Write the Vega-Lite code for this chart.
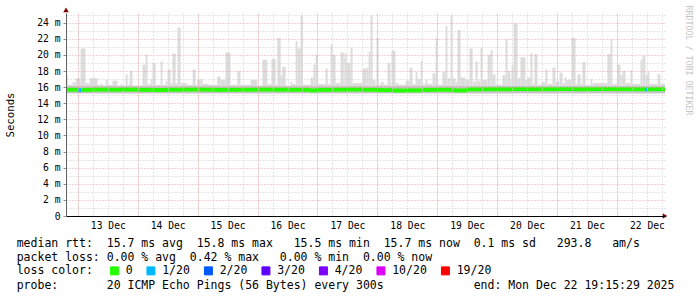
{
  "width": 599,
  "height": 203,
  "autosize": {"type": "none"},
  "padding": {"left": 66, "top": 13, "right": 32, "bottom": 81},
  "background": "white",
  "config": {"view": {"stroke": null}},
  "title": {
    "text": ["median rtt:\u00a0\u00a015.7 ms avg\u00a0\u00a015.8 ms max\u00a0\u00a0\u00a015.5 ms min\u00a0\u00a015.7 ms now\u00a0\u00a00.1 ms sd\u00a0\u00a0\u00a0293.8\u00a0\u00a0\u00a0am/s",
             "packet loss:\u00a00.00 % avg\u00a0\u00a00.42 % max\u00a0\u00a0\u00a00.00 % min\u00a0\u00a00.00 % now"],
    "subtitle": ["\u00a0", "probe:\u00a0\u00a0\u00a0\u00a0\u00a0\u00a0\u00a020 ICMP Echo Pings (56 Bytes) every 300s\u00a0\u00a0\u00a0\u00a0\u00a0\u00a0\u00a0\u00a0\u00a0\u00a0\u00a0\u00a0\u00a0end: Mon Dec 22 19:15:29 2025"],
    "orient": "bottom",
    "anchor": "start",
    "frame": "group",
    "dx": -49.3,
    "offset": -39,
    "font": "DejaVu Sans Mono",
    "fontSize": 11.5,
    "fontWeight": "normal",
    "color": "#000000",
    "lineHeight": 14,
    "subtitleFont": "DejaVu Sans Mono",
    "subtitleFontSize": 11.5,
    "subtitleFontWeight": "normal",
    "subtitleColor": "#000000",
    "subtitleLineHeight": 14,
    "subtitlePadding": 2
  },
  "datasets": {
    "smoke": [
      {"t0":"2025-12-12T19:15","t1":"2025-12-12T19:55","v":17.5},
      {"t0":"2025-12-12T19:55","t1":"2025-12-12T21:50","v":16.3},
      {"t0":"2025-12-12T21:50","t1":"2025-12-12T23:05","v":16.6},
      {"t0":"2025-12-12T23:05","t1":"2025-12-13T01:05","v":17.1},
      {"t0":"2025-12-13T01:05","t1":"2025-12-13T03:05","v":20.8},
      {"t0":"2025-12-13T03:05","t1":"2025-12-13T04:45","v":16.5},
      {"t0":"2025-12-13T04:45","t1":"2025-12-13T07:55","v":17.1},
      {"t0":"2025-12-13T07:55","t1":"2025-12-13T09:10","v":16.3},
      {"t0":"2025-12-13T09:10","t1":"2025-12-13T10:05","v":16.4},
      {"t0":"2025-12-13T10:05","t1":"2025-12-13T11:10","v":16.2},
      {"t0":"2025-12-13T11:10","t1":"2025-12-13T11:55","v":16.9},
      {"t0":"2025-12-13T11:55","t1":"2025-12-13T13:50","v":16.3},
      {"t0":"2025-12-13T13:50","t1":"2025-12-13T15:55","v":16.8},
      {"t0":"2025-12-13T15:55","t1":"2025-12-13T17:10","v":16.2},
      {"t0":"2025-12-13T17:10","t1":"2025-12-13T17:55","v":16.4},
      {"t0":"2025-12-13T17:55","t1":"2025-12-13T19:10","v":16.2},
      {"t0":"2025-12-13T19:10","t1":"2025-12-13T19:55","v":17.6},
      {"t0":"2025-12-13T19:55","t1":"2025-12-13T20:45","v":16.3},
      {"t0":"2025-12-13T20:45","t1":"2025-12-13T21:55","v":18.0},
      {"t0":"2025-12-13T21:55","t1":"2025-12-14T01:55","v":16.2},
      {"t0":"2025-12-14T01:55","t1":"2025-12-14T03:10","v":18.8},
      {"t0":"2025-12-14T03:10","t1":"2025-12-14T03:55","v":20.0},
      {"t0":"2025-12-14T03:55","t1":"2025-12-14T05:10","v":16.4},
      {"t0":"2025-12-14T05:10","t1":"2025-12-14T05:55","v":17.0},
      {"t0":"2025-12-14T05:55","t1":"2025-12-14T07:10","v":19.0},
      {"t0":"2025-12-14T07:10","t1":"2025-12-14T09:10","v":16.3},
      {"t0":"2025-12-14T09:10","t1":"2025-12-14T09:55","v":19.2},
      {"t0":"2025-12-14T09:55","t1":"2025-12-14T11:10","v":16.3},
      {"t0":"2025-12-14T11:10","t1":"2025-12-14T11:55","v":16.7},
      {"t0":"2025-12-14T11:55","t1":"2025-12-14T13:10","v":18.2},
      {"t0":"2025-12-14T13:10","t1":"2025-12-14T13:55","v":16.5},
      {"t0":"2025-12-14T13:55","t1":"2025-12-14T15:10","v":20.2},
      {"t0":"2025-12-14T15:10","t1":"2025-12-14T15:55","v":16.5},
      {"t0":"2025-12-14T15:55","t1":"2025-12-14T17:10","v":23.4},
      {"t0":"2025-12-14T17:10","t1":"2025-12-14T19:50","v":16.5},
      {"t0":"2025-12-14T19:50","t1":"2025-12-14T22:00","v":16.3},
      {"t0":"2025-12-14T22:00","t1":"2025-12-14T23:10","v":18.2},
      {"t0":"2025-12-14T23:10","t1":"2025-12-14T23:50","v":16.3},
      {"t0":"2025-12-14T23:50","t1":"2025-12-15T01:10","v":16.9},
      {"t0":"2025-12-15T01:10","t1":"2025-12-15T02:00","v":17.0},
      {"t0":"2025-12-15T02:00","t1":"2025-12-15T04:25","v":16.4},
      {"t0":"2025-12-15T04:25","t1":"2025-12-15T07:50","v":16.3},
      {"t0":"2025-12-15T07:50","t1":"2025-12-15T09:10","v":17.3},
      {"t0":"2025-12-15T09:10","t1":"2025-12-15T11:10","v":16.9},
      {"t0":"2025-12-15T11:10","t1":"2025-12-15T13:10","v":20.3},
      {"t0":"2025-12-15T13:10","t1":"2025-12-15T15:55","v":16.3},
      {"t0":"2025-12-15T15:55","t1":"2025-12-15T17:10","v":18.0},
      {"t0":"2025-12-15T17:10","t1":"2025-12-15T21:10","v":16.3},
      {"t0":"2025-12-15T21:10","t1":"2025-12-15T23:55","v":16.9},
      {"t0":"2025-12-15T23:55","t1":"2025-12-16T01:55","v":16.2},
      {"t0":"2025-12-16T01:55","t1":"2025-12-16T03:55","v":19.4},
      {"t0":"2025-12-16T03:55","t1":"2025-12-16T05:35","v":16.4},
      {"t0":"2025-12-16T05:35","t1":"2025-12-16T07:15","v":19.5},
      {"t0":"2025-12-16T07:15","t1":"2025-12-16T07:55","v":16.3},
      {"t0":"2025-12-16T07:55","t1":"2025-12-16T09:15","v":22.1},
      {"t0":"2025-12-16T09:15","t1":"2025-12-16T09:55","v":17.5},
      {"t0":"2025-12-16T09:55","t1":"2025-12-16T11:15","v":18.5},
      {"t0":"2025-12-16T11:15","t1":"2025-12-16T13:15","v":16.2},
      {"t0":"2025-12-16T13:15","t1":"2025-12-16T13:55","v":16.7},
      {"t0":"2025-12-16T13:55","t1":"2025-12-16T15:15","v":16.4},
      {"t0":"2025-12-16T15:15","t1":"2025-12-16T16:00","v":21.7},
      {"t0":"2025-12-16T16:00","t1":"2025-12-16T17:15","v":20.8},
      {"t0":"2025-12-16T17:15","t1":"2025-12-16T18:10","v":24.9},
      {"t0":"2025-12-16T18:10","t1":"2025-12-16T21:15","v":16.3},
      {"t0":"2025-12-16T21:15","t1":"2025-12-16T22:25","v":17.2},
      {"t0":"2025-12-16T22:25","t1":"2025-12-16T23:15","v":18.8},
      {"t0":"2025-12-16T23:15","t1":"2025-12-17T00:05","v":20.0},
      {"t0":"2025-12-17T00:05","t1":"2025-12-17T03:15","v":16.4},
      {"t0":"2025-12-17T03:15","t1":"2025-12-17T04:05","v":18.3},
      {"t0":"2025-12-17T04:05","t1":"2025-12-17T05:15","v":16.4},
      {"t0":"2025-12-17T05:15","t1":"2025-12-17T06:05","v":21.3},
      {"t0":"2025-12-17T06:05","t1":"2025-12-17T07:15","v":20.0},
      {"t0":"2025-12-17T07:15","t1":"2025-12-17T09:15","v":16.5},
      {"t0":"2025-12-17T09:15","t1":"2025-12-17T10:30","v":20.3},
      {"t0":"2025-12-17T10:30","t1":"2025-12-17T10:50","v":19.6},
      {"t0":"2025-12-17T10:50","t1":"2025-12-17T11:40","v":20.2},
      {"t0":"2025-12-17T11:40","t1":"2025-12-17T13:15","v":19.0},
      {"t0":"2025-12-17T13:15","t1":"2025-12-17T14:05","v":20.9},
      {"t0":"2025-12-17T14:05","t1":"2025-12-17T18:05","v":16.5},
      {"t0":"2025-12-17T18:05","t1":"2025-12-17T19:40","v":18.3},
      {"t0":"2025-12-17T19:40","t1":"2025-12-17T20:30","v":18.4},
      {"t0":"2025-12-17T20:30","t1":"2025-12-17T21:15","v":20.4},
      {"t0":"2025-12-17T21:15","t1":"2025-12-17T22:05","v":24.9},
      {"t0":"2025-12-17T22:05","t1":"2025-12-17T23:15","v":16.9},
      {"t0":"2025-12-17T23:15","t1":"2025-12-17T23:40","v":16.3},
      {"t0":"2025-12-17T23:40","t1":"2025-12-18T00:30","v":22.1},
      {"t0":"2025-12-18T00:30","t1":"2025-12-18T01:15","v":16.3},
      {"t0":"2025-12-18T01:15","t1":"2025-12-18T02:35","v":16.6},
      {"t0":"2025-12-18T02:35","t1":"2025-12-18T04:05","v":16.3},
      {"t0":"2025-12-18T04:05","t1":"2025-12-18T05:15","v":19.0},
      {"t0":"2025-12-18T05:15","t1":"2025-12-18T05:40","v":16.5},
      {"t0":"2025-12-18T05:40","t1":"2025-12-18T07:15","v":20.5},
      {"t0":"2025-12-18T07:15","t1":"2025-12-18T08:30","v":16.5},
      {"t0":"2025-12-18T08:30","t1":"2025-12-18T11:20","v":16.3},
      {"t0":"2025-12-18T11:20","t1":"2025-12-18T12:55","v":16.8},
      {"t0":"2025-12-18T12:55","t1":"2025-12-18T14:05","v":18.4},
      {"t0":"2025-12-18T14:05","t1":"2025-12-18T15:20","v":16.4},
      {"t0":"2025-12-18T15:20","t1":"2025-12-18T16:05","v":17.9},
      {"t0":"2025-12-18T16:05","t1":"2025-12-18T17:20","v":17.0},
      {"t0":"2025-12-18T17:20","t1":"2025-12-18T18:05","v":19.2},
      {"t0":"2025-12-18T18:05","t1":"2025-12-18T19:20","v":16.4},
      {"t0":"2025-12-18T19:20","t1":"2025-12-18T20:05","v":16.9},
      {"t0":"2025-12-18T20:05","t1":"2025-12-18T22:05","v":16.4},
      {"t0":"2025-12-18T22:05","t1":"2025-12-18T23:20","v":17.7},
      {"t0":"2025-12-18T23:20","t1":"2025-12-19T00:05","v":22.1},
      {"t0":"2025-12-19T00:05","t1":"2025-12-19T02:05","v":16.3},
      {"t0":"2025-12-19T02:05","t1":"2025-12-19T03:20","v":17.9},
      {"t0":"2025-12-19T03:20","t1":"2025-12-19T04:05","v":23.6},
      {"t0":"2025-12-19T04:05","t1":"2025-12-19T05:20","v":17.1},
      {"t0":"2025-12-19T05:20","t1":"2025-12-19T06:05","v":24.9},
      {"t0":"2025-12-19T06:05","t1":"2025-12-19T07:20","v":17.1},
      {"t0":"2025-12-19T07:20","t1":"2025-12-19T08:05","v":16.6},
      {"t0":"2025-12-19T08:05","t1":"2025-12-19T09:20","v":23.1},
      {"t0":"2025-12-19T09:20","t1":"2025-12-19T11:20","v":17.2},
      {"t0":"2025-12-19T11:20","t1":"2025-12-19T12:55","v":16.9},
      {"t0":"2025-12-19T12:55","t1":"2025-12-19T14:10","v":20.8},
      {"t0":"2025-12-19T14:10","t1":"2025-12-19T15:20","v":16.7},
      {"t0":"2025-12-19T15:20","t1":"2025-12-19T16:10","v":19.2},
      {"t0":"2025-12-19T16:10","t1":"2025-12-19T17:20","v":16.8},
      {"t0":"2025-12-19T17:20","t1":"2025-12-19T18:10","v":20.9},
      {"t0":"2025-12-19T18:10","t1":"2025-12-19T20:10","v":16.9},
      {"t0":"2025-12-19T20:10","t1":"2025-12-19T21:20","v":20.0},
      {"t0":"2025-12-19T21:20","t1":"2025-12-19T22:10","v":20.6},
      {"t0":"2025-12-19T22:10","t1":"2025-12-19T23:20","v":17.6},
      {"t0":"2025-12-19T23:20","t1":"2025-12-20T02:10","v":16.3},
      {"t0":"2025-12-20T02:10","t1":"2025-12-20T03:20","v":17.5},
      {"t0":"2025-12-20T03:20","t1":"2025-12-20T04:10","v":21.9},
      {"t0":"2025-12-20T04:10","t1":"2025-12-20T05:20","v":18.0},
      {"t0":"2025-12-20T05:20","t1":"2025-12-20T05:45","v":17.0},
      {"t0":"2025-12-20T05:45","t1":"2025-12-20T06:35","v":18.7},
      {"t0":"2025-12-20T06:35","t1":"2025-12-20T08:10","v":23.9},
      {"t0":"2025-12-20T08:10","t1":"2025-12-20T09:20","v":17.1},
      {"t0":"2025-12-20T09:20","t1":"2025-12-20T11:20","v":19.7},
      {"t0":"2025-12-20T11:20","t1":"2025-12-20T12:10","v":16.9},
      {"t0":"2025-12-20T12:10","t1":"2025-12-20T13:20","v":17.2},
      {"t0":"2025-12-20T13:20","t1":"2025-12-20T14:10","v":20.2},
      {"t0":"2025-12-20T14:10","t1":"2025-12-20T14:55","v":16.4},
      {"t0":"2025-12-20T14:55","t1":"2025-12-20T16:10","v":20.1},
      {"t0":"2025-12-20T16:10","t1":"2025-12-20T17:45","v":16.3},
      {"t0":"2025-12-20T17:45","t1":"2025-12-20T19:20","v":16.6},
      {"t0":"2025-12-20T19:20","t1":"2025-12-20T20:10","v":18.2},
      {"t0":"2025-12-20T20:10","t1":"2025-12-20T22:10","v":16.4},
      {"t0":"2025-12-20T22:10","t1":"2025-12-20T23:20","v":18.4},
      {"t0":"2025-12-20T23:20","t1":"2025-12-21T01:00","v":16.7},
      {"t0":"2025-12-21T01:00","t1":"2025-12-21T02:10","v":17.8},
      {"t0":"2025-12-21T02:10","t1":"2025-12-21T03:00","v":16.5},
      {"t0":"2025-12-21T03:00","t1":"2025-12-21T03:45","v":17.2},
      {"t0":"2025-12-21T03:45","t1":"2025-12-21T05:45","v":16.9},
      {"t0":"2025-12-21T05:45","t1":"2025-12-21T07:25","v":22.1},
      {"t0":"2025-12-21T07:25","t1":"2025-12-21T08:10","v":16.4},
      {"t0":"2025-12-21T08:10","t1":"2025-12-21T09:25","v":17.6},
      {"t0":"2025-12-21T09:25","t1":"2025-12-21T10:10","v":16.4},
      {"t0":"2025-12-21T10:10","t1":"2025-12-21T11:25","v":19.1},
      {"t0":"2025-12-21T11:25","t1":"2025-12-21T13:25","v":16.3},
      {"t0":"2025-12-21T13:25","t1":"2025-12-21T14:10","v":17.0},
      {"t0":"2025-12-21T14:10","t1":"2025-12-21T20:10","v":16.5},
      {"t0":"2025-12-21T20:10","t1":"2025-12-21T21:25","v":20.1},
      {"t0":"2025-12-21T21:25","t1":"2025-12-21T22:10","v":21.9},
      {"t0":"2025-12-21T22:10","t1":"2025-12-22T00:10","v":16.4},
      {"t0":"2025-12-22T00:10","t1":"2025-12-22T01:25","v":18.8},
      {"t0":"2025-12-22T01:25","t1":"2025-12-22T02:10","v":17.5},
      {"t0":"2025-12-22T02:10","t1":"2025-12-22T03:25","v":18.0},
      {"t0":"2025-12-22T03:25","t1":"2025-12-22T05:25","v":16.5},
      {"t0":"2025-12-22T05:25","t1":"2025-12-22T06:10","v":18.1},
      {"t0":"2025-12-22T06:10","t1":"2025-12-22T09:25","v":16.4},
      {"t0":"2025-12-22T09:25","t1":"2025-12-22T10:15","v":19.4},
      {"t0":"2025-12-22T10:15","t1":"2025-12-22T11:25","v":19.9},
      {"t0":"2025-12-22T11:25","t1":"2025-12-22T12:15","v":17.5},
      {"t0":"2025-12-22T12:15","t1":"2025-12-22T13:00","v":17.9},
      {"t0":"2025-12-22T13:00","t1":"2025-12-22T16:15","v":16.4},
      {"t0":"2025-12-22T16:15","t1":"2025-12-22T17:25","v":17.6},
      {"t0":"2025-12-22T17:25","t1":"2025-12-22T19:15","v":16.4}
    ],
    "core": [
      {"t0":"2025-12-12T19:15","t1":"2025-12-22T19:15","v":16.15}
    ],
    "median": [
      {"t0":"2025-12-12T19:15","t1":"2025-12-13T00:00","v":15.68,"loss":"0"},
      {"t0":"2025-12-13T00:00","t1":"2025-12-13T01:25","v":15.62,"loss":"1/20"},
      {"t0":"2025-12-13T01:25","t1":"2025-12-13T06:00","v":15.66,"loss":"0"},
      {"t0":"2025-12-13T06:00","t1":"2025-12-13T12:00","v":15.70,"loss":"0"},
      {"t0":"2025-12-13T12:00","t1":"2025-12-13T18:00","v":15.68,"loss":"0"},
      {"t0":"2025-12-13T18:00","t1":"2025-12-14T00:00","v":15.70,"loss":"0"},
      {"t0":"2025-12-14T00:00","t1":"2025-12-14T06:00","v":15.66,"loss":"0"},
      {"t0":"2025-12-14T06:00","t1":"2025-12-14T12:00","v":15.64,"loss":"0"},
      {"t0":"2025-12-14T12:00","t1":"2025-12-14T18:00","v":15.68,"loss":"0"},
      {"t0":"2025-12-14T18:00","t1":"2025-12-15T00:00","v":15.70,"loss":"0"},
      {"t0":"2025-12-15T00:00","t1":"2025-12-15T06:00","v":15.69,"loss":"0"},
      {"t0":"2025-12-15T06:00","t1":"2025-12-15T12:00","v":15.66,"loss":"0"},
      {"t0":"2025-12-15T12:00","t1":"2025-12-15T18:00","v":15.67,"loss":"0"},
      {"t0":"2025-12-15T18:00","t1":"2025-12-16T00:00","v":15.68,"loss":"0"},
      {"t0":"2025-12-16T00:00","t1":"2025-12-16T06:00","v":15.70,"loss":"0"},
      {"t0":"2025-12-16T06:00","t1":"2025-12-16T12:00","v":15.68,"loss":"0"},
      {"t0":"2025-12-16T12:00","t1":"2025-12-16T18:00","v":15.67,"loss":"0"},
      {"t0":"2025-12-16T18:00","t1":"2025-12-16T21:00","v":15.66,"loss":"0"},
      {"t0":"2025-12-16T21:00","t1":"2025-12-17T00:00","v":15.60,"loss":"0"},
      {"t0":"2025-12-17T00:00","t1":"2025-12-17T06:00","v":15.66,"loss":"0"},
      {"t0":"2025-12-17T06:00","t1":"2025-12-17T12:00","v":15.68,"loss":"0"},
      {"t0":"2025-12-17T12:00","t1":"2025-12-17T18:00","v":15.70,"loss":"0"},
      {"t0":"2025-12-17T18:00","t1":"2025-12-18T00:00","v":15.67,"loss":"0"},
      {"t0":"2025-12-18T00:00","t1":"2025-12-18T06:00","v":15.63,"loss":"0"},
      {"t0":"2025-12-18T06:00","t1":"2025-12-18T12:00","v":15.58,"loss":"0"},
      {"t0":"2025-12-18T12:00","t1":"2025-12-18T18:00","v":15.60,"loss":"0"},
      {"t0":"2025-12-18T18:00","t1":"2025-12-19T00:00","v":15.66,"loss":"0"},
      {"t0":"2025-12-19T00:00","t1":"2025-12-19T06:00","v":15.68,"loss":"0"},
      {"t0":"2025-12-19T06:00","t1":"2025-12-19T12:00","v":15.60,"loss":"0"},
      {"t0":"2025-12-19T12:00","t1":"2025-12-19T18:00","v":15.72,"loss":"0"},
      {"t0":"2025-12-19T18:00","t1":"2025-12-20T00:00","v":15.74,"loss":"0"},
      {"t0":"2025-12-20T00:00","t1":"2025-12-20T06:00","v":15.74,"loss":"0"},
      {"t0":"2025-12-20T06:00","t1":"2025-12-20T12:00","v":15.75,"loss":"0"},
      {"t0":"2025-12-20T12:00","t1":"2025-12-20T18:00","v":15.74,"loss":"0"},
      {"t0":"2025-12-20T18:00","t1":"2025-12-21T00:00","v":15.75,"loss":"0"},
      {"t0":"2025-12-21T00:00","t1":"2025-12-21T06:00","v":15.76,"loss":"0"},
      {"t0":"2025-12-21T06:00","t1":"2025-12-21T12:00","v":15.74,"loss":"0"},
      {"t0":"2025-12-21T12:00","t1":"2025-12-21T18:00","v":15.75,"loss":"0"},
      {"t0":"2025-12-21T18:00","t1":"2025-12-22T00:00","v":15.76,"loss":"0"},
      {"t0":"2025-12-22T00:00","t1":"2025-12-22T06:00","v":15.75,"loss":"0"},
      {"t0":"2025-12-22T06:00","t1":"2025-12-22T11:25","v":15.74,"loss":"0"},
      {"t0":"2025-12-22T11:25","t1":"2025-12-22T12:15","v":15.72,"loss":"1/20"},
      {"t0":"2025-12-22T12:15","t1":"2025-12-22T19:15","v":15.74,"loss":"0"}
    ],
    "arrows": [
      {"t0":"2025-12-12T19:15","v":25.6,"dir":"up"},
      {"t0":"2025-12-22T19:15","v":0,"dir":"right"}
    ]
  },
  "encoding": {
    "x": {"field": "t0", "type": "temporal"},
    "y": {"field": "v", "type": "quantitative", "scale": {"domain": [0, 25.2], "nice": false}}
  },
  "layer": [
    {
      "encoding": {
        "x": {
          "field": "t0",
          "type": "temporal",
          "axis": {
            "orient": "bottom",
            "title": null,
            "tickCount": 40,
            "labelExpr": "hours(datum.value) == 12 ? timeFormat(datum.value, '%d %b') : ''",
            "labelOverlap": false,
            "labelFlush": false,
            "labelFont": "DejaVu Sans Mono",
            "labelFontSize": 9.7,
            "labelColor": "#000000",
            "labelPadding": 4,
            "ticks": false,
            "grid": true,
            "gridColor": "#cfcfcf",
            "gridDash": [1, 2],
            "domainColor": "#000000",
            "zindex": 1
          }
        },
        "y": {
          "field": "v",
          "type": "quantitative",
          "scale": {"domain": [0, 25.2], "nice": false},
          "axis": {
            "orient": "left",
            "title": "Seconds",
            "titleFont": "DejaVu Sans Mono",
            "titleFontSize": 10.7,
            "titleFontWeight": "normal",
            "titleColor": "#000000",
            "titleX": -55.6,
            "titleY": 101.5,
            "titleAlign": "center",
            "titleBaseline": "middle",
            "values": [0, 2, 4, 6, 8, 10, 12, 14, 16, 18, 20, 22, 24],
            "labelExpr": "datum.value == 0 ? '0' : datum.value + ' m'",
            "labelOverlap": false,
            "labelFont": "DejaVu Sans Mono",
            "labelFontSize": 9.7,
            "labelColor": "#000000",
            "labelPadding": 3,
            "ticks": true,
            "tickSize": 3,
            "tickColor": "#909090",
            "grid": true,
            "gridColor": "#eba3a3",
            "gridDash": [1, 2],
            "domainColor": "#606060",
            "zindex": 1
          }
        }
      },
      "layer": [
        {
          "data": {"name": "smoke"},
          "mark": {"type": "rect", "color": "#dcdcdc"},
          "encoding": {"x2": {"field": "t1"}, "y2": {"datum": 15.2}}
        },
        {
          "data": {"name": "core"},
          "mark": {"type": "rect", "color": "#c6c6c6"},
          "encoding": {"x2": {"field": "t1"}, "y2": {"datum": 15.25}}
        },
        {
          "data": {"name": "arrows"},
          "transform": [{"filter": "datum.dir == 'up'"}],
          "mark": {"type": "point", "shape": "triangle-up", "filled": true, "color": "#7f0000", "size": 30, "opacity": 1},
          "encoding": {}
        },
        {
          "data": {"name": "arrows"},
          "transform": [{"filter": "datum.dir == 'right'"}],
          "mark": {"type": "point", "shape": "triangle-right", "filled": true, "color": "#7f0000", "size": 30, "opacity": 1},
          "encoding": {}
        }
      ]
    },
    {
      "data": {"name": "median"},
      "mark": {"type": "rule", "strokeWidth": 4},
      "encoding": {
        "x": {
          "field": "t0",
          "type": "temporal",
          "axis": {
            "orient": "top",
            "title": null,
            "tickCount": 10,
            "labels": false,
            "ticks": false,
            "domain": false,
            "grid": true,
            "gridColor": "#eba3a3",
            "gridDash": [1, 2],
            "zindex": 1
          }
        },
        "x2": {"field": "t1"},
        "y": {
          "field": "v",
          "type": "quantitative",
          "scale": {"domain": [0, 25.2], "nice": false},
          "axis": {
            "orient": "right",
            "values": [1, 3, 5, 7, 9, 11, 13, 15, 17, 19, 21, 23, 25],
            "labels": false,
            "ticks": false,
            "domain": false,
            "grid": true,
            "gridColor": "#cfcfcf",
            "gridDash": [1, 2],
            "zindex": 1,
            "title": "RRDTOOL / TOBI OETIKER",
            "titleFont": "DejaVu Sans Mono",
            "titleFontSize": 8.3,
            "titleFontWeight": "normal",
            "titleColor": "#c4c4c4",
            "titleAngle": 90,
            "titleAlign": "left",
            "titleBaseline": "middle",
            "titleX": 22,
            "titleY": -8
          }
        },
        "color": {
          "field": "loss",
          "type": "nominal",
          "scale": {
            "domain": ["0", "1/20", "2/20", "3/20", "4/20", "10/20", "19/20"],
            "range": ["#26ff00", "#00b8ff", "#0059ff", "#5e00ff", "#7e00ff", "#dd00ff", "#ff0000"]
          },
          "legend": {
            "orient": "none",
            "legendX": -49.3,
            "legendY": 252,
            "direction": "horizontal",
            "columns": 7,
            "padding": 0,
            "title": "loss color:",
            "titleOrient": "left",
            "titleFont": "DejaVu Sans Mono",
            "titleFontSize": 11.5,
            "titleFontWeight": "normal",
            "titleColor": "#000000",
            "titlePadding": 15,
            "titleBaseline": "middle",
            "labelFont": "DejaVu Sans Mono",
            "labelFontSize": 11.5,
            "labelColor": "#000000",
            "labelOffset": 5.5,
            "columnPadding": 11.5,
            "symbolType": "square",
            "symbolSize": 64,
            "symbolStrokeWidth": 1,
            "symbolStrokeColor": "#000000",
            "symbolOpacity": 1,
            "encode": {
              "symbols": {
                "update": {
                  "fill": {"scale": "color", "field": "value"},
                  "stroke": {"value": "#000000"},
                  "strokeWidth": {"value": 1}
                }
              }
            }
          }
        }
      }
    }
  ],
  "resolve": {"axis": {"x": "independent", "y": "independent"}}
}
